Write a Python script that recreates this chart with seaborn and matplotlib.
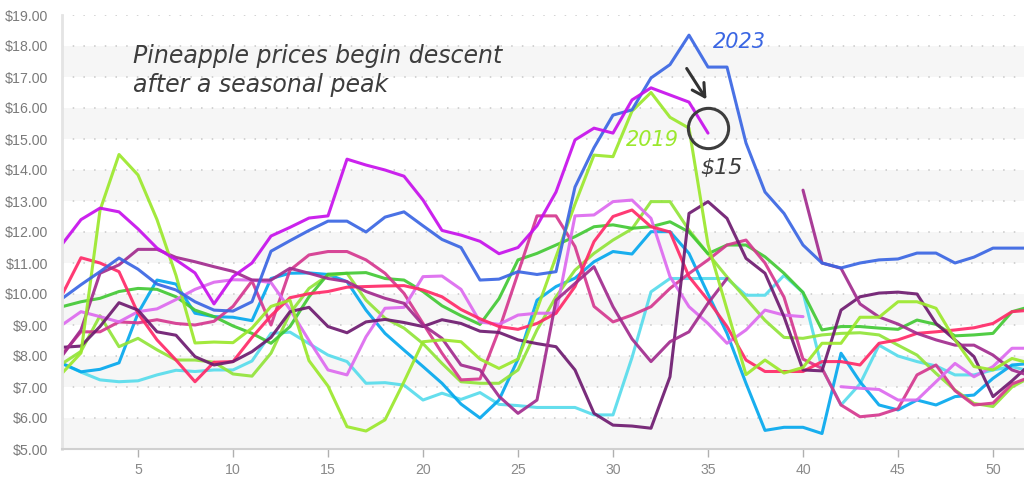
import numpy as np
import pandas as pd
import matplotlib
matplotlib.use("Agg")
import matplotlib.pyplot as plt
import seaborn as sns

nan = np.nan
weeks = list(range(1, 53))

s2023 = [9.85, 10.3, 10.72, 11.16, 10.8, 10.32, 10.13, 9.75, 9.48, 9.45, 9.75, 11.38, 11.72, 12.05, 12.35, 12.35,
         12.0, 12.48, 12.65, 12.2, 11.76, 11.5, 10.45, 10.48, 10.72, 10.63, 10.72, 13.45, 14.72, 15.77, 15.94, 16.97,
         17.4, 18.35, 17.32, 17.32, 14.87, 13.29, 12.6, 11.58, 11.0, 10.84, 11.0, 11.1, 11.13, 11.32, 11.32, 11.0,
         11.19, 11.48, 11.48, 11.48]
s2024 = [11.6, 12.4, 12.77, 12.65, 12.1, 11.48, 11.1, 10.68, 9.68, 10.56, 11.0, 11.87, 12.15, 12.45, 12.52, 14.35,
         14.16, 14.0, 13.8, 13.03, 12.05, 11.9, 11.7, 11.3, 11.5, 12.2, 13.29, 14.97, 15.35, 15.19, 16.26, 16.65,
         16.42, 16.19, 15.19] + [nan] * 17
s2019 = [7.44, 8.1, 12.7, 14.5, 13.84, 12.4, 10.6, 8.42, 8.45, 8.43, 8.9, 9.6, 9.8, 7.85, 7.03, 5.72, 5.58, 5.94,
         7.17, 8.46, 8.52, 8.46, 7.9, 7.6, 7.9, 9.5, 11.2, 12.9, 14.48, 14.43, 15.9, 16.5, 15.7, 15.35, 11.6, 9.5,
         7.4, 7.87, 7.45, 7.63, 8.41, 8.41, 9.25, 9.25, 9.75, 9.75, 9.54, 8.52, 7.66, 7.55, 7.92, 7.76]
s_lime = [7.75, 8.15, 9.3, 8.3, 8.57, 8.2, 7.87, 7.87, 7.8, 7.42, 7.35, 8.09, 9.38, 10.18, 10.6, 10.67, 9.8, 9.22,
          8.9, 8.4, 7.76, 7.17, 7.12, 7.12, 7.55, 8.84, 9.91, 10.77, 11.31, 11.74, 12.1, 12.98, 12.98, 12.06, 11.3,
          10.55, 9.85, 9.15, 8.6, 8.57, 8.68, 8.73, 8.75, 8.68, 8.35, 8.03, 7.44, 6.9, 6.47, 6.37, 7.0, 7.33]
s_green = [9.59, 9.75, 9.86, 10.08, 10.18, 10.15, 9.91, 9.48, 9.27, 8.97, 8.73, 8.41, 8.95, 9.91, 10.64, 10.67,
           10.69, 10.5, 10.45, 10.08, 9.62, 9.3, 9.02, 9.85, 11.1, 11.31, 11.58, 11.85, 12.17, 12.23, 12.12, 12.17,
           12.33, 12.0, 11.3, 11.58, 11.58, 11.2, 10.67, 10.05, 8.84, 8.95, 8.95, 8.9, 8.86, 9.16, 9.02, 8.65, 8.68,
           8.73, 9.43, 9.6]
s_sky = [7.76, 7.49, 7.57, 7.78, 9.38, 10.45, 10.32, 9.38, 9.27, 9.25, 9.14, 10.5, 10.67, 10.68, 10.63, 10.4, 9.48,
         8.73, 8.19, 7.66, 7.12, 6.45, 6.0, 6.58, 7.9, 9.8, 10.24, 10.51, 11.04, 11.37, 11.29, 12.01, 12.01, 11.31,
         10.0, 8.73, 7.12, 5.6, 5.7, 5.7, 5.5, 8.09, 7.17, 6.42, 6.26, 6.58, 6.42, 6.69, 6.74, 7.28, 7.71, 7.76]
s_cyan = [7.76, 7.48, 7.23, 7.17, 7.2, 7.39, 7.54, 7.5, 7.55, 7.55, 7.84, 8.73, 8.77, 8.4, 8.03, 7.82, 7.12, 7.14,
          7.06, 6.58, 6.8, 6.6, 6.82, 6.44, 6.4, 6.34, 6.34, 6.34, 6.1, 6.1, 7.95, 10.07, 10.5, 10.5, 10.5, 10.5,
          9.96, 9.96, 10.6, 10.05, 7.6, 6.42, 7.1, 8.35, 8.0, 7.82, 7.68, 7.39, 7.39, 7.55, 7.66, 7.5]
s_crimson = [9.97, 11.17, 11.0, 10.72, 9.38, 8.52, 7.87, 7.17, 7.8, 7.82, 8.6, 9.3, 9.88, 10.01, 10.08, 10.22,
             10.24, 10.26, 10.27, 10.13, 9.91, 9.5, 9.2, 8.95, 8.86, 9.05, 9.38, 10.24, 11.69, 12.5, 12.71, 12.17,
             12.0, 10.56, 9.8, 8.95, 7.87, 7.5, 7.5, 7.5, 7.82, 7.82, 7.71, 8.41, 8.52, 8.73, 8.78, 8.84, 8.91, 9.05,
             9.43, 9.48]
s_orchid = [9.0, 9.43, 9.27, 9.1, 9.43, 9.52, 9.82, 10.15, 10.38, 10.46, 10.45, 10.37, 9.5, 8.5, 7.55, 7.39, 8.62,
            9.54, 9.57, 10.56, 10.58, 10.15, 9.1, 9.02, 9.32, 9.38, 9.38, 12.52, 12.55, 12.98, 13.03, 12.44, 10.56,
            9.59, 9.05, 8.41, 8.84, 9.48, 9.32, 9.27, nan, 7.01, 6.96, 6.92, 6.58, 6.58, 7.17, 7.76, 7.33, 7.66,
            8.25, 8.25]
s_pink = [8.05, 8.78, 8.78, 9.1, 9.07, 9.17, 9.05, 9.0, 9.12, 9.6, 10.42, 9.0, 10.77, 11.26, 11.37, 11.37, 11.1,
          10.67, 10.02, 9.05, 8.09, 7.23, 7.26, 8.84, 10.67, 12.52, 12.52, 11.53, 9.6, 9.1, 9.32, 9.59, 10.18, 10.66,
          11.1, 11.58, 11.74, 11.0, 9.9, 7.9, 7.6, 6.42, 6.04, 6.1, 6.3, 7.39, 7.71, 6.88, 6.42, 6.48, 7.1, 7.33]
s_dmag = [8.0, 8.84, 10.67, 10.94, 11.44, 11.44, 11.18, 11.04, 10.88, 10.73, 10.45, 10.45, 10.83, 10.67, 10.5, 10.4,
          10.08, 9.86, 9.7, 9.0, 8.57, 7.71, 7.55, 6.7, 6.15, 6.58, 9.8, 10.34, 10.88, 9.59, 8.55, 7.82, 8.46, 8.78,
          9.7, 10.5, nan, nan, nan, 13.35, 11.0, 10.83, 9.68, 9.26, 9.03, 8.73, 8.52, 8.35, 8.35, 8.03, 7.55, 7.35]
s_dpurp = [8.28, 8.32, 8.95, 9.72, 9.48, 8.78, 8.67, 7.98, 7.71, 7.82, 8.14, 8.6, 9.43, 9.57, 8.95, 8.75, 9.1, 9.18,
           9.08, 8.95, 9.17, 9.05, 8.8, 8.76, 8.52, 8.4, 8.3, 7.55, 6.15, 5.77, 5.74, 5.67, 7.33, 12.6, 12.98, 12.44,
           11.15, 10.67, 9.27, 7.55, 7.52, 9.48, 9.91, 10.03, 10.06, 10.0, 9.05, 8.52, 7.98, 6.69, 7.2, 7.76]

series = {
    "cyan": s_cyan, "sky": s_sky, "lime": s_lime, "green": s_green, "pink": s_pink,
    "orchid": s_orchid, "crimson": s_crimson, "dpurp": s_dpurp, "dmag": s_dmag,
    "2019": s2019, "2023": s2023, "2024": s2024,
}
palette = {
    "cyan": "#58dcec", "sky": "#05a8ee", "lime": "#92e43a", "green": "#43c935", "pink": "#d5388f",
    "orchid": "#dd6aef", "crimson": "#ff2a68", "dpurp": "#6e1b70", "dmag": "#a22c8e",
    "2019": "#9be82c", "2023": "#3a66e3", "2024": "#c710ec",
}
order = list(series.keys())

rows = []
for name, vals in series.items():
    seg = 0
    prev_nan = True
    for w, v in zip(weeks, vals):
        if np.isnan(v):
            prev_nan = True
            continue
        if prev_nan:
            seg += 1
            prev_nan = False
        rows.append({"week": w, "price": v, "series": name, "seg": f"{name}_{seg}"})
df = pd.DataFrame(rows)

sns.set_style("white")
plt.rcParams["font.family"] = ["Liberation Sans", "DejaVu Sans"]

fig = plt.figure(figsize=(10.24, 4.83), dpi=100)
ax = fig.add_axes([62 / 1024, 34 / 483, (1024 - 62) / 1024, 434 / 483])

for y0 in range(5, 19, 2):
    ax.axhspan(y0, y0 + 1, color="#f6f6f6", zorder=0, lw=0)

sns.lineplot(data=df, x="week", y="price", hue="series", units="seg", estimator=None,
             palette=palette, hue_order=order, linewidth=2.2, alpha=0.92, legend=False,
             sort=False, ax=ax)

ax.set_xlim(1, 1 + (1024 - 62) / 19)
ax.set_ylim(5, 19)
ax.set_yticks(range(5, 20))
ax.set_yticklabels([f"${v:.2f}" for v in range(5, 20)])
ax.set_xticks(range(5, 51, 5))
ax.set_xlabel("")
ax.set_ylabel("")
ax.set_axisbelow(True)
ax.yaxis.grid(True, linestyle=(0, (1, 6)), color="#c8c8c8", linewidth=1.1)
ax.xaxis.grid(False)
for s in ["top", "right"]:
    ax.spines[s].set_visible(False)
ax.spines["left"].set_color("#e4e4e4")
ax.spines["left"].set_linewidth(2)
ax.spines["bottom"].set_color("#d0d0d0")
ax.spines["bottom"].set_linewidth(1.5)
ax.tick_params(axis="y", length=0, pad=10, labelsize=10.2, labelcolor="#7a7a7a")
ax.tick_params(axis="x", length=6, width=1, color="#b0b0b0", pad=4, labelsize=10.2, labelcolor="#8a8a8a",
               bottom=True)

hand = dict(family=["DejaVu Sans"], style="italic")
ax.text(4.74, 18.05, "Pineapple prices begin descent\nafter a seasonal peak", ha="left", va="top",
        fontsize=17, color="#3d3d3d", linespacing=1.25, **hand)
ax.text(36.63, 18.13, "2023", ha="center", va="center", fontsize=15, color="#3a66e3", **hand)
ax.text(32.05, 14.97, "2019", ha="center", va="center", fontsize=15, color="#9be82c", **hand)
ax.text(35.7, 14.06, "$15", ha="center", va="center", fontsize=16, color="#3d3d3d", **hand)
ax.plot([35.0], [15.35], marker="o", ms=29, mfc="none", mec="#3d3d3d", mew=2.2, zorder=5)
ax.annotate("", xy=(35.0, 16.2), xytext=(33.8, 17.35),
            arrowprops=dict(arrowstyle="->,head_length=0.9,head_width=0.5", color="#333333", lw=2.2))

fig.savefig("out.png", dpi=100)
